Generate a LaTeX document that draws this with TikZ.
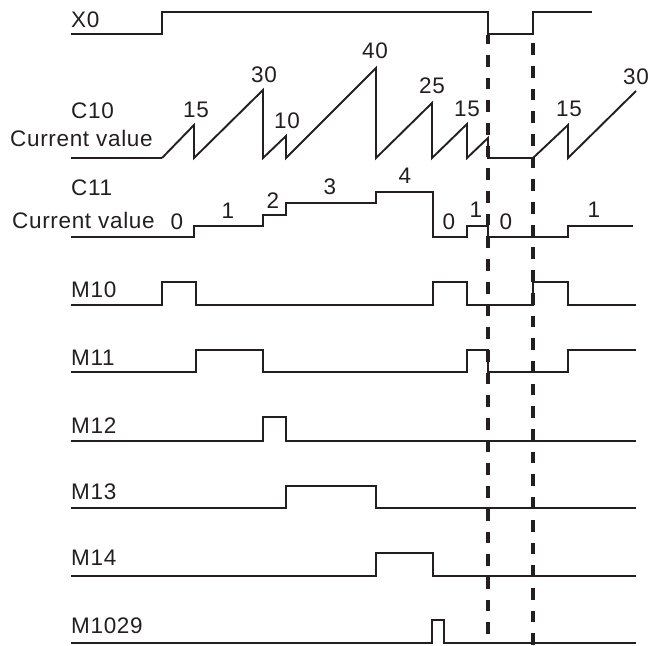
\documentclass[tikz,border=0pt]{standalone}
\usepackage{fontspec}
\setmainfont[LetterSpace=3]{Liberation Sans}
\usepackage{tikz}
\usetikzlibrary{positioning}
\definecolor{WaveInk}{RGB}{35, 31, 32}

\begin{document}
\begin{tikzpicture}[x=1pt, y=-1pt,
    wave/.style={WaveInk, line width=2.9pt, line join=miter},
    ramp/.style={WaveInk, line width=1.9pt, line join=miter},
    cutline/.style={WaveInk, line width=3.1pt, dash pattern=on 11.7pt off 11pt},
    signame/.style={anchor=base west, inner sep=0pt, text=WaveInk, font=\fontsize{22.5}{26}\selectfont},
    countval/.style={inner sep=0pt, text=WaveInk, font=\fontsize{22.5}{26}\selectfont}]
    \path[use as bounding box] (0,0) rectangle (649,646);

    % signal names
    \node[signame] (nameX0) at (71,27) {X0};
    \node[signame] (nameC10) at (71,118) {C10};
    \node[signame] (curC10) at (10,146) {Current value};
    \node[signame] (nameC11) at (71,195) {C11};
    \node[signame] (curC11) at (12,228) {Current value};
    \node[signame] (nameM10) at (71,297) {M10};
    \node[signame] (nameM11) at (71,365) {M11};
    \node[signame] (nameM12) at (71,433) {M12};
    \node[signame] (nameM13) at (71,499) {M13};
    \node[signame] (nameM14) at (71,565) {M14};
    \node[signame] (nameM1029) at (71,633) {M1029};

    % X0
    \draw[wave] (71,34) -- (162,34) -- (162,12) -- (488,12) -- (488,34) -- (533,34) -- (533,12) -- (592,12);

    % C10 current value
    \draw[wave] (71,158) -- (162,158);
    \draw[ramp] (162,158) -- (194,125) -- (194,158) -- (263,90) -- (263,158) -- (286,136) -- (286,158)
      -- (376,68) -- (376,158) -- (432,103) -- (432,158) -- (467,124) -- (467,158) -- (488,138)
      -- (488,158) -- (533,158) -- (568,125) -- (568,158) -- (636,91);
    \node[countval] (c10a) at (196,110) {15};
    \node[countval] (c10b) at (264,75) {30};
    \node[countval] (c10c) at (287,121) {10};
    \node[countval] (c10d) at (375,51) {40};
    \node[countval] (c10e) at (432,86) {25};
    \node[countval] (c10f) at (467,109) {15};
    \node[countval] (c10g) at (569,109) {15};
    \node[countval] (c10h) at (636,77) {30};

    % C11 current value
    \draw[wave] (71,237) -- (194,237) -- (194,226) -- (263,226) -- (263,215) -- (286,215) -- (286,203)
      -- (376,203) -- (376,192) -- (433,192) -- (433,237) -- (467,237) -- (467,226) -- (488,226)
      -- (488,237) -- (568,237) -- (568,226) -- (633,226);
    \node[countval] (c11a) at (177,222) {0};
    \node[countval] (c11b) at (228,211) {1};
    \node[countval] (c11c) at (273,201) {2};
    \node[countval] (c11d) at (330,187) {3};
    \node[countval] (c11e) at (405,176) {4};
    \node[countval] (c11f) at (449,222) {0};
    \node[countval] (c11g) at (476,210) {1};
    \node[countval] (c11h) at (506,222) {0};
    \node[countval] (c11i) at (594,210) {1};

    % comparator outputs
    \draw[wave] (71,305) -- (162,305) -- (162,282) -- (196,282) -- (196,305) -- (433,305) -- (433,282)
      -- (467,282) -- (467,305) -- (533,305) -- (533,282) -- (568,282) -- (568,305) -- (636,305);
    \draw[wave] (71,372) -- (196,372) -- (196,350) -- (263,350) -- (263,372) -- (467,372) -- (467,350)
      -- (488,350) -- (488,372) -- (568,372) -- (568,350) -- (636,350);
    \draw[wave] (71,441) -- (263,441) -- (263,417) -- (286,417) -- (286,441) -- (636,441);
    \draw[wave] (71,508) -- (286,508) -- (286,486) -- (376,486) -- (376,508) -- (636,508);
    \draw[wave] (71,576) -- (376,576) -- (376,553) -- (433,553) -- (433,576) -- (636,576);
    \draw[wave] (71,643) -- (432,643) -- (432,620) -- (444,620) -- (444,643) -- (636,643);

    % X0 off / on instants (drawn bottom-up so the last dash is whole)
    \draw[cutline] (488,634) -- (488,35);
    \draw[cutline] (533,645) -- (533,35);
\end{tikzpicture}
\end{document}
